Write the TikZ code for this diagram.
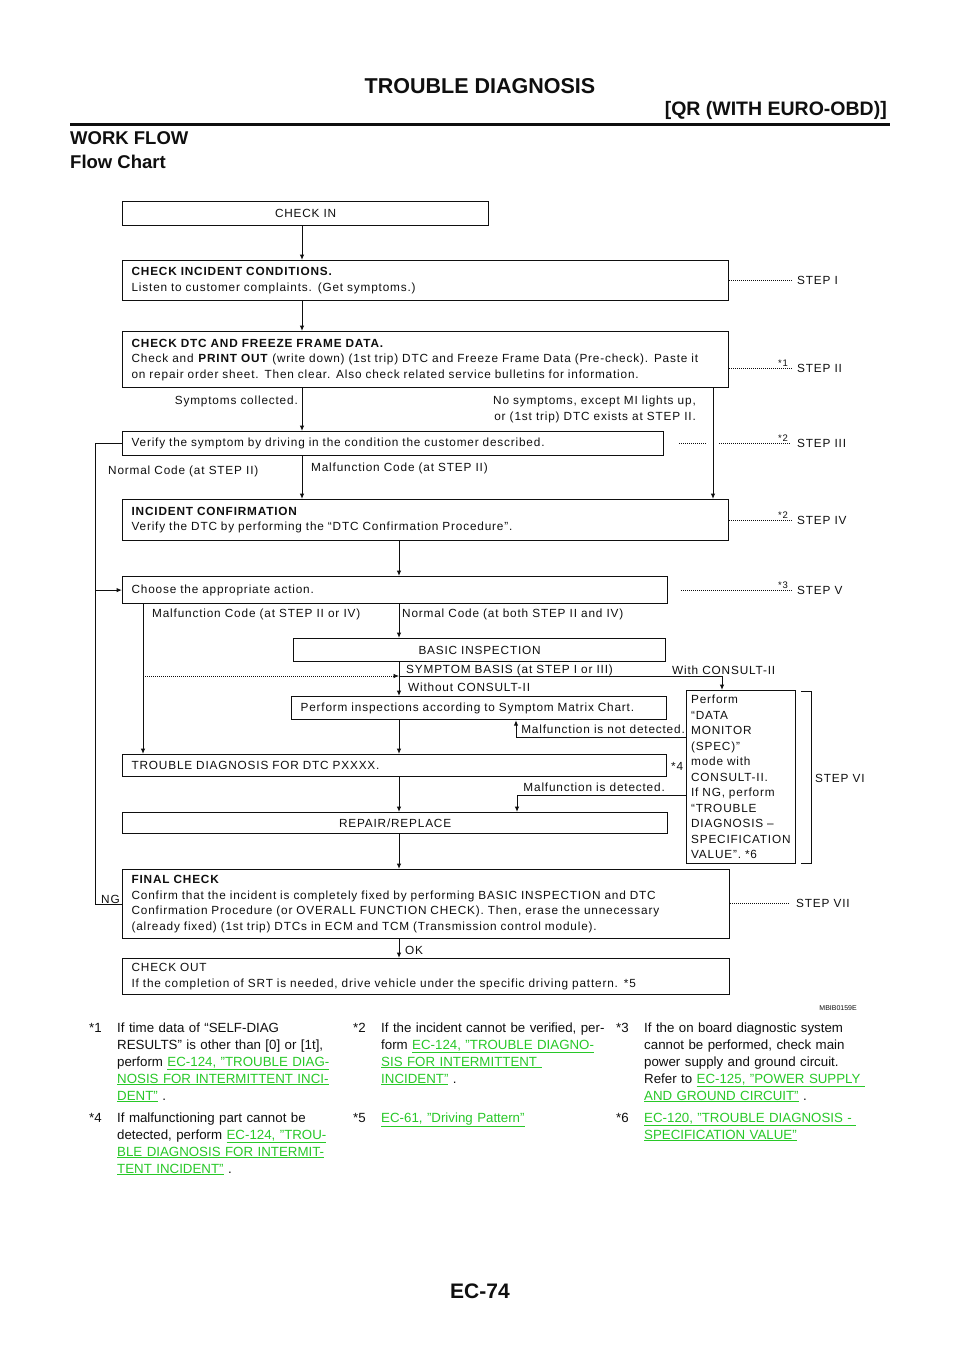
\documentclass[tikz,border=0pt]{standalone}
\usepackage{fontspec}
\setmainfont{Liberation Sans}
\newfontfamily\fcf[LetterSpace=7]{Liberation Sans}
\usetikzlibrary{arrows.meta,calc}
\definecolor{lk}{RGB}{40,200,40}
\definecolor{ink}{RGB}{15,15,15}
\newcommand\lnk[1]{\textcolor{lk}{\underline{#1}}}
\begin{document}
\begin{tikzpicture}[x=1pt,y=-1pt,
  box/.style={draw=ink, line width=1.2pt, anchor=north west, inner xsep=9pt, inner ysep=0pt,
    font=\fcf\fontsize{11.8}{15.5}\selectfont, text=ink, align=left},
  cbox/.style={box, align=center},
  lbl/.style={inner sep=0pt, font=\fcf\fontsize{11.8}{15.5}\selectfont, text=ink},
  star/.style={inner sep=0pt, font=\fcf\fontsize{9.5}{10}\selectfont, text=ink},
  ln/.style={draw=ink, line width=1pt},
  arr/.style={ln, -{Latex[length=5.5pt,width=4.5pt]}},
  dots/.style={draw=ink, line width=0.75pt, dash pattern=on 0.75pt off 1.25pt},
  dotarr/.style={dots, -{Latex[length=5.5pt,width=4.5pt]}},
  fn/.style={inner sep=0pt, font=\fontsize{13.3}{17}\selectfont, align=left, anchor=base west, text=ink},
  hd/.style={inner sep=0pt, text=ink}
]
\fill[white] (0,0) rectangle (960,1358);
\useasboundingbox (0,0) rectangle (960,1358);

% header
\node[hd, anchor=base, font=\bfseries\fontsize{21.5}{24}\selectfont] (title) at (480,93) {TROUBLE DIAGNOSIS};
\node[hd, anchor=base east, font=\bfseries\fontsize{19.5}{22}\selectfont] (sub) at (887,115) {[QR (WITH EURO-OBD)]};
\draw[ink, line width=3pt] (70,124.5) -- (890,124.5);
\node[hd, anchor=base west, font=\bfseries\fontsize{18.5}{20}\selectfont] (wf) at (70,144) {WORK FLOW};
\node[hd, anchor=base west, font=\bfseries\fontsize{18.5}{20}\selectfont] (fch) at (70,168) {Flow Chart};

% boxes
\node[cbox, minimum width=366pt, minimum height=24pt, text width=348pt] (ci) at (122,201) {CHECK IN};
\node[box, minimum width=606pt, minimum height=40pt, text width=588pt] (cic) at (122,260)
  {\textbf{CHECK INCIDENT CONDITIONS.}\\Listen to customer complaints. (Get symptoms.)};
\node[box, minimum width=606pt, minimum height=56pt, text width=588pt] (dtc) at (122,331)
  {\textbf{CHECK DTC AND FREEZE FRAME DATA.}\\Check and \textbf{PRINT OUT} (write down) (1st trip) DTC and Freeze Frame Data (Pre-check). Paste it\\on repair order sheet. Then clear. Also check related service bulletins for information.};
\node[box, minimum width=541pt, minimum height=24pt, text width=523pt] (ver) at (122,431)
  {Verify the symptom by driving in the condition the customer described.};
\node[box, minimum width=606pt, minimum height=41pt, text width=588pt] (inc) at (122,499)
  {\textbf{INCIDENT CONFIRMATION}\\Verify the DTC by performing the “DTC Confirmation Procedure”.};
\node[box, minimum width=545pt, minimum height=27pt, text width=527pt] (cho) at (122,576)
  {Choose the appropriate action.};
\node[cbox, minimum width=372pt, minimum height=23pt, text width=354pt] (bas) at (293,638) {BASIC INSPECTION};
\node[box, minimum width=375pt, minimum height=23pt, text width=357pt] (pi) at (291,696)
  {Perform inspections according to Symptom Matrix Chart.};
\node[box, minimum width=544pt, minimum height=22pt, text width=526pt] (td) at (122,754)
  {TROUBLE DIAGNOSIS FOR DTC PXXXX.};
\node[cbox, minimum width=545pt, minimum height=21pt, text width=527pt] (rr) at (122,812) {REPAIR/REPLACE};
\node[box, inner xsep=4.5pt, minimum width=109pt, minimum height=173pt, text width=100pt] (dm) at (686,690)
  {Perform\\“DATA\\MONITOR\\(SPEC)”\\mode with\\CONSULT-II.\\If NG, perform\\“TROUBLE\\DIAGNOSIS –\\SPECIFICATION\\VALUE”. *6};
\node[box, minimum width=607pt, minimum height=69pt, text width=589pt] (fc) at (122,869)
  {\textbf{FINAL CHECK}\\Confirm that the incident is completely fixed by performing BASIC INSPECTION and DTC\\Confirmation Procedure (or OVERALL FUNCTION CHECK). Then, erase the unnecessary\\(already fixed) (1st trip) DTCs in ECM and TCM (Transmission control module).};
\node[box, minimum width=607pt, minimum height=36pt, text width=589pt] (co) at (122,958)
  {CHECK OUT\\If the completion of SRT is needed, drive vehicle under the specific driving pattern. *5};

% guide coordinates
\coordinate (S) at (302,0);
\coordinate (M) at (399,0);
\coordinate (R) at (713,0);
\coordinate (L) at (95,0);
\coordinate (ML) at (143,0);
\coordinate (sb) at (399,676);
\coordinate (wc) at (722,676);
\coordinate (nd) at (516,737);
\coordinate (md) at (517,795);

% connectors
\draw[arr] (ci.south -| S) -- (cic.north -| S);
\draw[arr] (cic.south -| S) -- (dtc.north -| S);
\draw[arr] (dtc.south -| S) -- (ver.north -| S);
\draw[arr] (ver.south -| S) -- (inc.north -| S);
\draw[arr] (dtc.south -| R) -- (inc.north -| R);
\draw[ln] (ver.west) -- (ver.west -| L) -- (fc.west -| L) -- (fc.west);
\draw[arr] (cho.west -| L) -- (cho.west);
\draw[arr] (inc.south -| M) -- (cho.north -| M);
\draw[arr] (cho.south -| ML) -- (td.north -| ML);
\draw[arr] (cho.south -| M) -- (bas.north -| M);
\draw[arr] (bas.south -| M) -- (pi.north -| M);
\draw[dotarr] (sb -| ML) -- (sb);
\draw[arr] (sb) -- (wc) -- (dm.north -| wc);
\draw[arr] (dm.west |- nd) -- (nd) -- (pi.south -| nd);
\draw[arr] (pi.south -| M) -- (td.north -| M);
\draw[arr] (td.south -| M) -- (rr.north -| M);
\draw[arr] (dm.west |- md) -- (md) -- (rr.north -| md);
\draw[arr] (rr.south -| M) -- (fc.north -| M);
\draw[arr] (fc.south -| M) -- (co.north -| M);

% connector labels
\node[lbl, anchor=base east] (lsc) at (298,404) {Symptoms collected.};
\node[lbl, anchor=base east] (lns1) at (696,404) {No symptoms, except MI lights up,};
\node[lbl, anchor=base east] (lns2) at (696,420) {or (1st trip) DTC exists at STEP II.};
\node[lbl, anchor=base west] (lnc) at (108,474) {Normal Code (at STEP II)};
\node[lbl, anchor=base west] (lmc) at (311,471) {Malfunction Code (at STEP II)};
\node[lbl, anchor=base west] (lmc2) at (152,617) {Malfunction Code (at STEP II or IV)};
\node[lbl, anchor=base west] (lnc2) at (402,617) {Normal Code (at both STEP II and IV)};
\node[lbl, anchor=base west] (lsb) at (406,673) {SYMPTOM BASIS (at STEP I or III)};
\node[lbl, anchor=base west] (lwc) at (672,674) {With CONSULT-II};
\node[lbl, anchor=base west] (lwo) at (408,691) {Without CONSULT-II};
\node[lbl, anchor=base east] (lnd) at (685,733) {Malfunction is not detected.};
\node[lbl, anchor=base east] (lmd) at (665,791) {Malfunction is detected.};
\node[lbl, anchor=base west] (l4) at (671,770) {*4};
\node[lbl, anchor=base west] (lng) at (101,903) {NG};
\node[lbl, anchor=base west] (lok) at (405,954) {OK};

% step labels
\node[lbl, anchor=base west] (s1) at (797,284) {STEP I};
\node[lbl, anchor=base west] (s2) at (797,372) {STEP II};
\node[lbl, anchor=base west] (s3) at (797,447) {STEP III};
\node[lbl, anchor=base west] (s4) at (797,524) {STEP IV};
\node[lbl, anchor=base west] (s5) at (797,594) {STEP V};
\node[lbl, anchor=base west] (s6) at (815,782) {STEP VI};
\node[lbl, anchor=base west] (s7) at (796,907) {STEP VII};

\draw[dots] (s1.west -| cic.east) -- ($(s1.west)+(-5,0)$);
\draw[dots] (s2.west -| dtc.east) -- ($(s2.west)+(-5,0)$);
\draw[dots] ($(s3.west -| ver.east)+(15,0)$) -- ($(s3.west -| R)+(-6,0)$);
\draw[dots] ($(s3.west -| R)+(6,0)$) -- ($(s3.west)+(-7,0)$);
\draw[dots] (s4.west -| inc.east) -- ($(s4.west)+(-5,0)$);
\draw[dots] ($(s5.west -| cho.east)+(13,0)$) -- ($(s5.west)+(-5,0)$);
\draw[dots] (s7.west -| fc.east) -- ($(s7.west)+(-6,0)$);

\node[star, anchor=base east] (st1) at ($(s2.west)+(-9,-1)$) {*1};
\node[star, anchor=base east] (st2) at ($(s3.west)+(-9,-1)$) {*2};
\node[star, anchor=base east] (st3) at ($(s4.west)+(-9,-1)$) {*2};
\node[star, anchor=base east] (st4) at ($(s5.west)+(-9,-1)$) {*3};

% STEP VI bracket
\draw[ln] ($(dm.north east)+(5,1)$) -- ++(10,0) |- ($(dm.south east)+(5,-1)$);

\node[hd, anchor=base east, font=\fontsize{7}{8}\selectfont] (code) at (857,1010) {MBIB0159E};

% footnotes
\node[fn] (f1m) at (89,1032) {*1};
\node[fn, text width=235pt] (f1) at (117,1032) {If time data of “SELF-DIAG\\RESULTS” is other than [0] or [1t],\\perform \lnk{EC-124, "TROUBLE DIAG-}\\\lnk{NOSIS FOR INTERMITTENT INCI-}\\\lnk{DENT"} .};
\node[fn] (f2m) at (353,1032) {*2};
\node[fn, text width=235pt] (f2) at (381,1032) {If the incident cannot be verified, per-\\form \lnk{EC-124, "TROUBLE DIAGNO-}\\\lnk{SIS FOR INTERMITTENT\ }\\\lnk{INCIDENT"} .};
\node[fn] (f3m) at (616,1032) {*3};
\node[fn, text width=240pt] (f3) at (644,1032) {If the on board diagnostic system\\cannot be performed, check main\\power supply and ground circuit.\\Refer to \lnk{EC-125, "POWER SUPPLY\ }\\\lnk{AND GROUND CIRCUIT"} .};
\node[fn] (f4m) at (89,1122) {*4};
\node[fn, text width=235pt] (f4) at (117,1122) {If malfunctioning part cannot be\\detected, perform \lnk{EC-124, "TROU-}\\\lnk{BLE DIAGNOSIS FOR INTERMIT-}\\\lnk{TENT INCIDENT"} .};
\node[fn] (f5m) at (353,1122) {*5};
\node[fn, text width=235pt] (f5) at (381,1122) {\lnk{EC-61, "Driving Pattern"}};
\node[fn] (f6m) at (616,1122) {*6};
\node[fn, text width=240pt] (f6) at (644,1122) {\lnk{EC-120, "TROUBLE DIAGNOSIS -\ }\\\lnk{SPECIFICATION VALUE"}};

\node[hd, anchor=base, font=\bfseries\fontsize{21}{24}\selectfont] (pg) at (480,1298) {EC-74};
\end{tikzpicture}
\end{document}
